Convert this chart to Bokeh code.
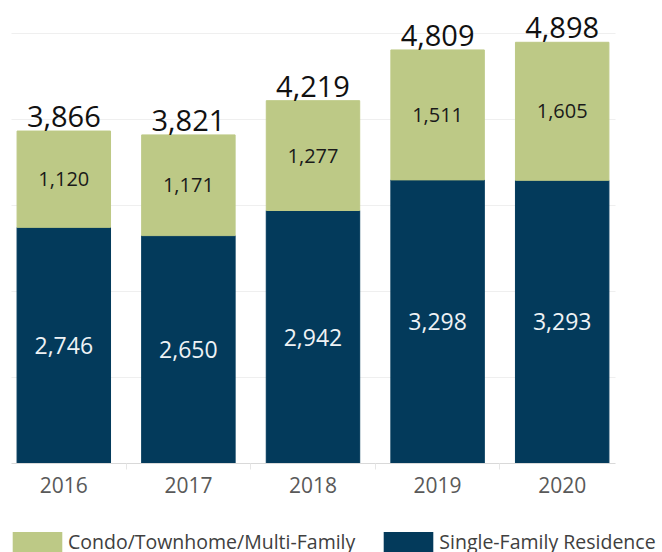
from bokeh.plotting import figure
from bokeh.layouts import column
from bokeh.models import ColumnDataSource, FixedTicker, SingleIntervalTicker, Legend, LegendItem, Range1d
from bokeh.core.properties import value
from bokeh.embed import file_html
from bokeh.resources import INLINE

years = ["2016", "2017", "2018", "2019", "2020"]
single_family = [2746, 2650, 2942, 3298, 3293]
condo = [1120, 1171, 1277, 1511, 1605]
series_names = ["Condo/Townhome/Multi-Family", "Single-Family Residence"]

GREEN = "#bdc986"
NAVY = "#033a5b"
FONT = "Open Sans"

xs = list(range(len(years)))
totals = [a + b for a, b in zip(single_family, condo)]
src = ColumnDataSource(dict(
    x=xs,
    sfr=single_family,
    condo=condo,
    total=totals,
    sfr_mid=[s / 2 for s in single_family],
    condo_mid=[s + c / 2 for s, c in zip(single_family, condo)],
    sfr_lbl=[f"{v:,}" for v in single_family],
    condo_lbl=[f"{v:,}" for v in condo],
    total_lbl=[f"{v:,}" for v in totals],
))

p = figure(width=660, height=505, output_backend="svg", toolbar_location=None,
           x_range=Range1d(-0.508, 4.789), y_range=Range1d(0, 5384),
           min_border_left=0, min_border_top=0, min_border_right=0, min_border_bottom=42)
p.outline_line_color = None

r_sfr = p.vbar(x="x", bottom=0, top="sfr", width=0.75, source=src,
               fill_color=NAVY, line_color=NAVY)
r_condo = p.vbar(x="x", bottom="sfr", top="total", width=0.75, source=src,
                 fill_color=GREEN, line_color=GREEN)

p.text(x="x", y="sfr_mid", text="sfr_lbl", source=src, text_align="center",
       text_baseline="middle", text_font=value(FONT), text_font_size="23px",
       text_color="#eef2f5")
p.text(x="x", y="condo_mid", text="condo_lbl", source=src, text_align="center",
       text_baseline="middle", text_font=value(FONT), text_font_size="20px",
       text_color="#1a1a1a")
p.text(x="x", y="total", text="total_lbl", source=src, text_align="center",
       text_baseline="bottom", y_offset=-4, text_font=value(FONT), text_font_size="29px",
       text_color="#111111")

p.yaxis.visible = False
p.yaxis.ticker = SingleIntervalTicker(interval=1000)
p.ygrid.ticker = SingleIntervalTicker(interval=1000)
p.ygrid.grid_line_color = "#efefef"
if "cross_bounds" in p.ygrid[0].properties():
    p.ygrid.cross_bounds = (-0.42, 4.43)
p.xgrid.visible = False

xa = p.xaxis[0]
xa.ticker = FixedTicker(ticks=xs, minor_ticks=[0.5, 1.5, 2.5, 3.5])
xa.major_label_overrides = {i: y for i, y in enumerate(years)}
xa.bounds = (-0.42, 4.43)
xa.major_tick_line_color = None
xa.minor_tick_out = 6
xa.minor_tick_in = 0
xa.minor_tick_line_color = "#e6e6e6"
xa.axis_line_color = "#d9d9d9"
xa.major_label_text_font = FONT
xa.major_label_text_font_size = "21px"
xa.major_label_text_color = "#595959"
xa.major_label_standoff = 7

# legend strip (its glyph renderers lie outside the visible ranges; only the legend shows)
q = figure(width=660, height=47, output_backend="svg", toolbar_location=None,
           x_axis_location=None, y_axis_location=None,
           x_range=Range1d(-30, -29), y_range=Range1d(-2, -1),
           min_border_left=0, min_border_top=0, min_border_right=0, min_border_bottom=0)
q.outline_line_color = None
q.xgrid.visible = False
q.ygrid.visible = False
lg_condo = q.vbar(x="x", bottom="sfr", top="total", width=0.75, source=src,
                  fill_color=GREEN, line_color=None)
lg_sfr = q.vbar(x="x", bottom="sfr", top="total", width=0.75, source=src,
                fill_color=NAVY, line_color=None)

legend = Legend(items=[LegendItem(label=series_names[0], renderers=[lg_condo]),
                       LegendItem(label=series_names[1], renderers=[lg_sfr])],
                orientation="horizontal", location=(6, -3),
                glyph_width=62, glyph_height=25, label_standoff=-4, spacing=22,
                label_text_font=FONT, label_text_font_size="19.5px", label_text_color="#404040",
                background_fill_alpha=0, border_line_color=None, padding=0, margin=0)
q.add_layout(legend, "center")

layout = column(p, q, spacing=0)
open("out.html", "w").write(file_html(layout, INLINE))
